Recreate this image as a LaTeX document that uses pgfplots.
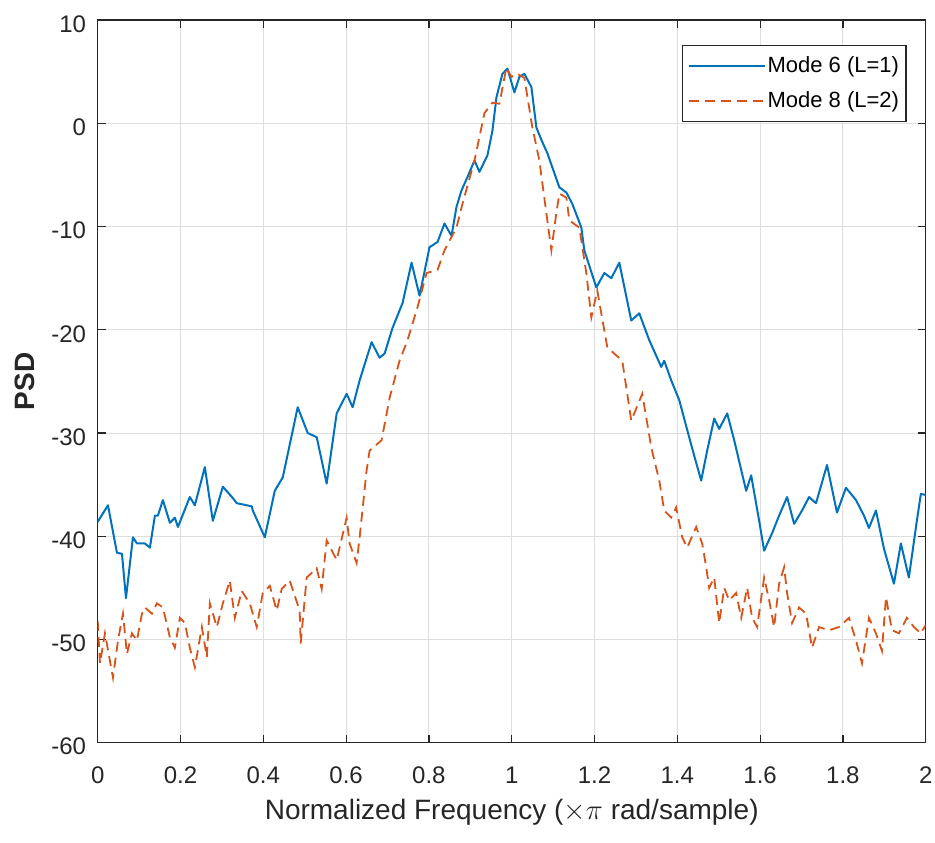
\documentclass[border=0pt]{standalone}
\usepackage{pgfplots}
\pgfplotsset{compat=1.18}
\usepackage{fontspec}
\setmainfont{Liberation Sans}
\definecolor{mblue}{rgb}{0,0.447,0.741}
\definecolor{morange}{rgb}{0.85,0.325,0.098}
\definecolor{mgrid}{rgb}{0.87,0.87,0.87}
\definecolor{maxis}{rgb}{0.15,0.15,0.15}
\begin{document}
\begin{tikzpicture}
\useasboundingbox (-48.85pt,-49.65pt) rectangle (418.65pt,371.35pt);
\begin{axis}[
  at={(0pt,0pt)}, anchor=south west,
  scale only axis, width=414pt, height=361.3pt,
  xmin=0, xmax=2, ymin=-60, ymax=10,
  xtick={0,0.2,0.4,0.6,0.8,1,1.2,1.4,1.6,1.8,2},
  xticklabels={0,0.2,0.4,0.6,0.8,1,1.2,1.4,1.6,1.8,2},
  ytick={-60,-50,-40,-30,-20,-10,0,10},
  yticklabels={-60,-50,-40,-30,-20,-10,0,10},
  /pgf/number format/assume math mode=true,
  grid=major,
  major grid style={mgrid, line width=0.5pt},
  axis line style={maxis, line width=0.7pt},
  tick style={maxis, line width=0.6pt},
  major tick length=4pt,
  tick align=inside,
  xtick pos=both, ytick pos=both,
  xticklabel style={font=\fontsize{12}{14}\selectfont, text=maxis, yshift=-8.7pt},
  yticklabel style={font=\fontsize{12}{14}\selectfont, text=maxis, xshift=-2.3pt, yshift=-2pt},
  xlabel={Normalized Frequency ($\times\pi$ rad/sample)},
  ylabel={\bfseries PSD},
  every axis x label/.style={at={(axis description cs:0.5,-0.096)}, anchor=center, font=\fontsize{14}{16}\selectfont, text=maxis},
  every axis y label/.style={at={(axis description cs:-0.0877,0.5)}, rotate=90, anchor=center, font=\fontsize{14}{16}\selectfont, text=maxis},
  legend cell align=left,
  legend image code/.code={\draw[#1] (0pt,0pt) -- (38pt,0pt);},
  legend style={at={(rel axis cs:0.977,0.9654)}, anchor=north east,
    draw=maxis, line width=0.6pt, fill=white,
    font=\fontsize{11}{13}\selectfont,
    inner xsep=2.5pt, inner ysep=4.5pt, row sep=6pt,
    nodes={inner sep=1pt}},
]
\addplot[mblue, line width=1pt, line join=round] table {
x y
0 -38.6
0.0248 -37.0
0.0465 -41.6
0.0586 -41.7
0.0683 -46.0
0.0851 -40.1
0.0948 -40.7
0.1141 -40.7
0.1261 -41.1
0.1382 -38.0
0.1454 -38.0
0.1575 -36.5
0.1744 -38.7
0.1864 -38.2
0.1937 -39.1
0.2226 -36.2
0.2347 -37.0
0.2588 -33.3
0.2781 -38.5
0.3023 -35.2
0.3264 -36.3
0.3360 -36.8
0.3722 -37.1
0.3746 -37.5
0.4036 -40.1
0.4277 -35.6
0.4470 -34.3
0.4831 -27.5
0.5073 -30.0
0.5290 -30.4
0.5531 -34.9
0.5772 -28.1
0.6013 -26.2
0.6158 -27.5
0.6327 -24.9
0.6616 -21.2
0.6809 -22.7
0.6930 -22.3
0.7123 -19.8
0.7364 -17.4
0.7581 -13.5
0.7774 -16.7
0.8015 -12.0
0.8208 -11.5
0.8377 -9.7
0.8546 -10.9
0.8666 -8.1
0.8787 -6.5
0.8932 -5.2
0.9101 -3.6
0.9221 -4.7
0.9414 -3.1
0.9535 -0.7
0.9631 2.5
0.9776 4.8
0.9897 5.3
1.0065 3.0
1.0186 4.5
1.0307 4.8
1.0476 3.5
1.0596 -0.4
1.0717 -1.6
1.0862 -2.9
1.1151 -6.2
1.1320 -6.7
1.1464 -7.8
1.1682 -10.1
1.1754 -12.3
1.2044 -15.9
1.2237 -14.5
1.2406 -15.0
1.2599 -13.5
1.2888 -19.1
1.3081 -18.4
1.3322 -21.0
1.3612 -23.6
1.3684 -23.0
1.3853 -24.9
1.4046 -26.8
1.4239 -29.7
1.4408 -32.2
1.4577 -34.6
1.4722 -31.7
1.4891 -28.6
1.5012 -29.6
1.5205 -28.1
1.5374 -30.7
1.5663 -35.6
1.5784 -34.1
1.5977 -38.5
1.6097 -41.4
1.6290 -39.7
1.6459 -38.0
1.6652 -36.2
1.6821 -38.8
1.7014 -37.5
1.7183 -36.2
1.7350 -36.8
1.7616 -33.1
1.7857 -37.7
1.8074 -35.3
1.8316 -36.5
1.8509 -38.0
1.8629 -39.2
1.8798 -37.5
1.8991 -41.2
1.9232 -44.6
1.9400 -40.7
1.9593 -44.0
1.9786 -38.5
1.9883 -35.9
2.0 -36.0
};
\addlegendentry{Mode 6 (L=1)}
\addplot[morange, line width=0.9pt, dash pattern=on 5pt off 3pt] table {
x y
0 -48.2
0.0055 -52.3
0.0176 -49.4
0.0369 -53.7
0.0490 -50.1
0.0610 -47.5
0.0707 -51.4
0.0827 -49.4
0.0948 -50.1
0.1069 -47.5
0.1141 -46.9
0.1310 -47.5
0.1430 -46.5
0.1575 -46.9
0.1744 -49.8
0.1864 -50.8
0.1985 -47.9
0.2106 -48.4
0.2226 -50.8
0.2347 -52.7
0.2516 -48.8
0.2636 -51.7
0.2709 -46.5
0.2878 -48.8
0.3023 -46.5
0.3191 -44.3
0.3312 -47.9
0.3480 -45.3
0.3673 -46.5
0.3842 -48.8
0.3987 -45.5
0.4156 -44.8
0.4325 -47.2
0.4445 -45.1
0.4638 -44.3
0.4879 -47.2
0.4903 -50.4
0.5048 -44.0
0.5290 -43.1
0.5410 -45.1
0.5531 -40.4
0.5772 -42.3
0.6013 -38.2
0.6085 -40.7
0.6254 -42.6
0.6327 -40.1
0.6496 -33.6
0.6568 -31.7
0.6857 -30.7
0.7050 -26.6
0.7291 -23.0
0.7484 -21.0
0.7726 -17.8
0.7943 -14.5
0.8208 -14.2
0.8377 -12.3
0.8666 -10.1
0.8811 -7.8
0.9101 -3.6
0.9342 1.0
0.9535 2.0
0.9703 1.9
0.9872 5.4
0.9993 4.5
1.0137 4.8
1.0306 4.4
1.0499 -0.4
1.0668 -3.6
1.0837 -8.7
1.0958 -12.3
1.1078 -8.7
1.1151 -6.8
1.1320 -7.2
1.1392 -9.4
1.1633 -10.1
1.1802 -14.5
1.1923 -18.8
1.2067 -16.2
1.2309 -21.7
1.2671 -23.0
1.2888 -28.8
1.3154 -26.2
1.3371 -31.4
1.3564 -34.6
1.3684 -37.5
1.3853 -38.2
1.3973 -37.2
1.4118 -40.1
1.4239 -41.1
1.4456 -39.1
1.4601 -40.7
1.4698 -43.0
1.4770 -45.0
1.4891 -44.0
1.5012 -48.4
1.5133 -45.0
1.5253 -46.2
1.5422 -45.5
1.5543 -47.9
1.5687 -45.0
1.5808 -47.9
1.5929 -48.8
1.6097 -44.0
1.6218 -46.2
1.6338 -48.8
1.6459 -44.6
1.6580 -43.0
1.6652 -45.5
1.6773 -48.4
1.6942 -46.9
1.7110 -47.5
1.7255 -50.8
1.7424 -48.8
1.7665 -49.1
1.7906 -48.8
1.8147 -47.9
1.8316 -50.1
1.8461 -52.3
1.8629 -47.9
1.8798 -49.4
1.8943 -51.1
1.9040 -45.9
1.9184 -49.1
1.9353 -49.4
1.9546 -47.9
1.9715 -48.8
1.9884 -49.4
2.0 -48.6
};
\addlegendentry{Mode 8 (L=2)}
\end{axis}
\end{tikzpicture}
\end{document}
